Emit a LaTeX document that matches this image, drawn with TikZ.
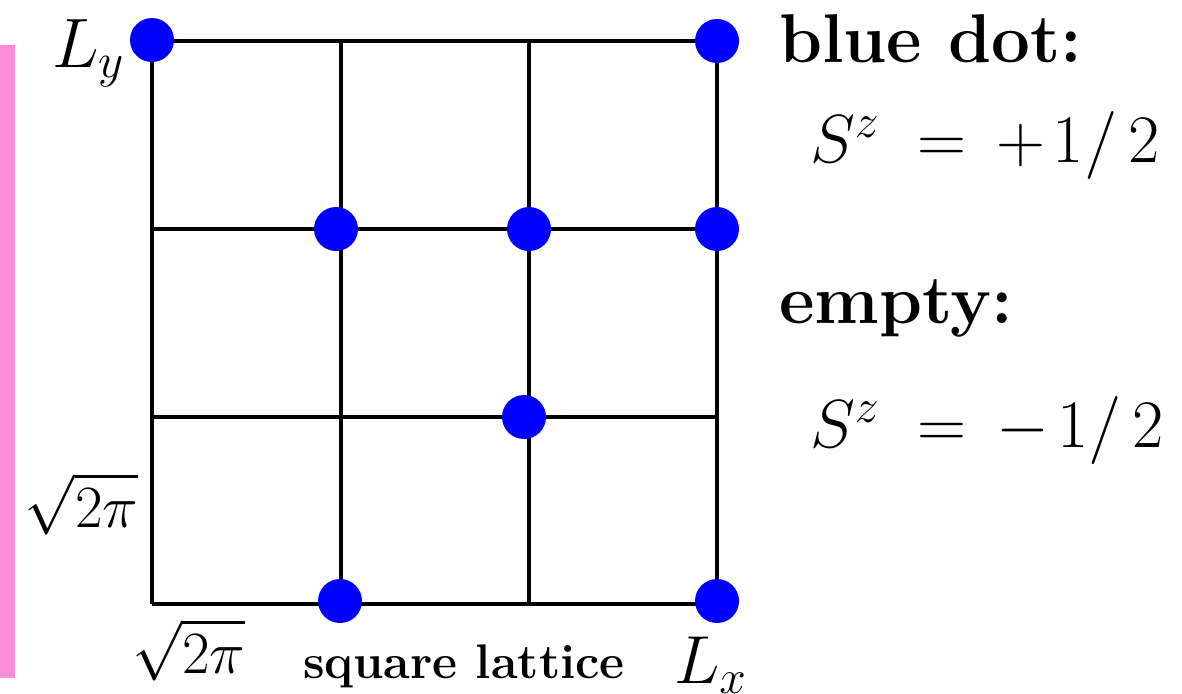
\RequirePackage{fix-cm}
\documentclass[tikz,border=0pt]{standalone}
\usepackage{amsmath}
\usepackage{tikz}
\usetikzlibrary{positioning}

\definecolor{barpink}{RGB}{255,140,218}

\begin{document}
\begin{tikzpicture}[
    x=0.5pt, y=-0.5pt,
    line width=2pt,
    spin/.style={
        circle,
        fill=blue,
        minimum size=22pt,
        inner sep=0pt
    },
    lab/.style={
        inner sep=0pt,
        font=\fontsize{34}{40}\selectfont
    },
    tick/.style={
        inner sep=0pt,
        font=\fontsize{30}{36}\selectfont
    },
    small/.style={
        inner sep=0pt,
        font=\fontsize{24.3}{28}\selectfont\bfseries
    }
]
\useasboundingbox (0,0) rectangle (1182,693);

% =========================================================
% Bar on the left
% =========================================================
\fill[barpink] (0,45) rectangle (15,678);

% =========================================================
% Lattice points and bonds
% =========================================================
\foreach \i/\xx in {0/152, 1/341, 2/529, 3/717} {
    \foreach \j/\yy in {0/41, 1/229, 2/417, 3/604} {
        \coordinate (p-\i-\j) at (\xx,\yy);
    }
}

\foreach \j in {0,...,3}
    \draw (p-0-\j) -- (p-3-\j);
\foreach \i in {0,...,3}
    \draw (p-\i-0) -- (p-\i-3);

% =========================================================
% Up spins
% =========================================================
\node[spin] (s1) at (152,40)  {};
\node[spin] (s2) at (717,41)  {};
\node[spin] (s3) at (336,229) {};
\node[spin] (s4) at (529,229) {};
\node[spin] (s5) at (717,229) {};
\node[spin] (s6) at (524,417) {};
\node[spin] (s7) at (340,601) {};
\node[spin] (s8) at (717,601) {};

% =========================================================
% Axis labels
% =========================================================
\node[lab, anchor=base east, font=\fontsize{35}{40}\selectfont]
    (ly) at (127,67) {$L_y$};
\node[tick, anchor=base west] (sy) at (23,527)  {$\sqrt{2\pi}$};
\node[tick, anchor=base west] (sx) at (130,673) {$\sqrt{2\pi}$};
\node[small, anchor=base west] (title) at (301,678) {square lattice};
\node[lab, anchor=base west] (lx) at (672,683) {$L_x$};

% =========================================================
% Legend
% =========================================================
\node[lab, anchor=base west, font=\fontsize{34.5}{40}\selectfont\bfseries]
    (up) at (777,62) {blue dot:};
\node[lab, anchor=base west] (upv) at (808,162)
    {$S^z\mkern5mu=\mkern3mu{+}\mkern2mu1/\mkern3mu2$};
\node[lab, anchor=base west, font=\fontsize{34.5}{40}\selectfont\bfseries]
    (dn) at (777,323) {empty:};
\node[lab, anchor=base west] (dnv) at (808,447)
    {$S^z\mkern5mu=\mkern3mu{-}\mkern2mu1/\mkern3mu2$};

\end{tikzpicture}
\end{document}
